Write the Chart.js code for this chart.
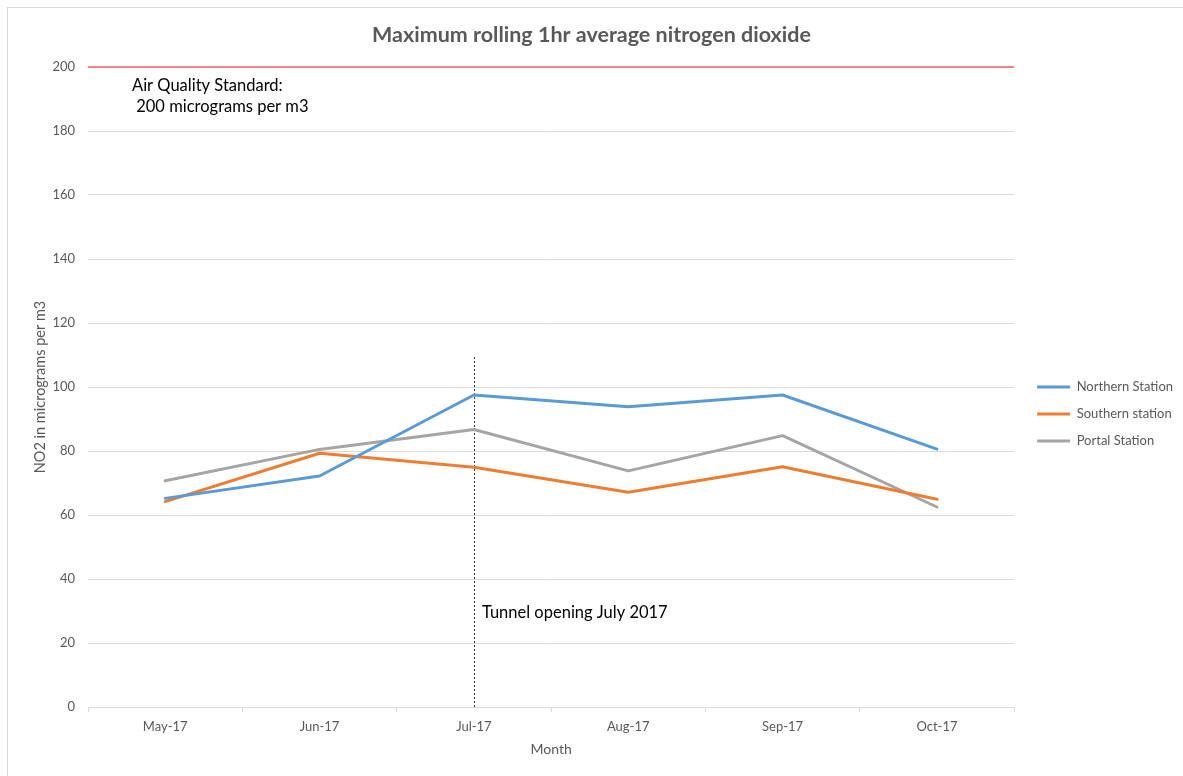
<!DOCTYPE html>
<html>
<head>
<meta charset="utf-8">
<script src="https://cdn.jsdelivr.net/npm/chart.js@4.4.0/dist/chart.umd.min.js"></script>
<style>
html,body{margin:0;padding:0;background:#fff;overflow:hidden;}
#frame{position:absolute;left:7px;top:7px;width:1300px;height:900px;border:1px solid #d9d9d9;}
#wrap{position:absolute;left:0;top:0;width:1183px;height:776px;}
</style>
</head>
<body>
<div id="frame"></div>
<div id="wrap"><canvas id="c" width="1183" height="776"></canvas></div>
<script>
// ---- data ----
const months = ['May-17', 'Jun-17', 'Jul-17', 'Aug-17', 'Sep-17', 'Oct-17'];
const northernStation = [65.2, 72.2, 97.5, 93.8, 97.5, 80.6];
const southernStation = [64.2, 79.3, 74.9, 67.1, 75.1, 64.9];
const portalStation   = [70.7, 80.5, 86.7, 73.8, 84.8, 62.5];
const seriesNames = ['Northern Station', 'Southern station', 'Portal Station'];
const airQualityStandard = 200;
const tunnelOpeningMonth = 'Jul-17';
const tunnelLineTop = 109.5;
const yMin = 0, yMax = 200, yStep = 20;
const titleText = 'Maximum rolling 1hr average nitrogen dioxide';
const xTitle = 'Month';
const yTitle = 'NO2 in micrograms per m3';
const standardLabel1 = 'Air Quality Standard:';
const standardLabel2 = ' 200 micrograms per m3';
const tunnelLabel = 'Tunnel opening July 2017';

const FONT = 'Lato, "Open Sans", sans-serif';
const GREY_TEXT = '#595959';
const GRID = '#d9d9d9';

const overlay = {
  id: 'overlay',
  beforeDatasetsDraw(chart) {
    const {ctx, scales: {x, y}} = chart;
    const xt = Math.round(x.getPixelForValue(months.indexOf(tunnelOpeningMonth))) + 0.5;
    ctx.save();
    ctx.strokeStyle = '#333';
    ctx.lineWidth = 1;
    ctx.setLineDash([2, 2]);
    ctx.beginPath();
    ctx.moveTo(xt, y.getPixelForValue(yMin));
    ctx.lineTo(xt, y.getPixelForValue(tunnelLineTop));
    ctx.stroke();
    ctx.restore();
  },
  afterDatasetsDraw(chart) {
    const {ctx, chartArea: a, scales: {x, y}} = chart;
    ctx.save();
    const yr = y.getPixelForValue(airQualityStandard);
    ctx.strokeStyle = '#F26262';
    ctx.lineWidth = 1.3;
    ctx.beginPath();
    ctx.moveTo(a.left, yr);
    ctx.lineTo(a.right, yr);
    ctx.stroke();

    ctx.fillStyle = '#000';
    ctx.font = '16.5px ' + FONT;
    ctx.textBaseline = 'middle';
    ctx.textAlign = 'left';
    ctx.fillText(standardLabel1, a.left + 44, yr + 19);
    ctx.fillText(standardLabel2, a.left + 44, yr + 40);
    const xt = x.getPixelForValue(months.indexOf(tunnelOpeningMonth));
    ctx.fillText(tunnelLabel, xt + 8, y.getPixelForValue(29.5));
    ctx.restore();
  }
};

const colors = ['#5B9BD5', '#ED7D31', '#A5A5A5'];
const values = [northernStation, southernStation, portalStation];

new Chart(document.getElementById('c'), {
  type: 'line',
  data: {
    labels: months,
    datasets: values.map((v, i) => ({
      label: seriesNames[i],
      data: v,
      borderColor: colors[i],
      backgroundColor: colors[i],
      borderWidth: 3,
      pointRadius: 0,
      tension: 0,
      borderJoinStyle: 'round',
      borderCapStyle: 'round'
    }))
  },
  options: {
    responsive: false,
    animation: false,
    devicePixelRatio: 1,
    layout: {padding: 0},
    plugins: {
      tooltip: {enabled: false},
      title: {
        display: true,
        text: titleText,
        color: GREY_TEXT,
        font: {family: FONT, size: 21.5, weight: 'bold'},
        padding: {top: 22.1, bottom: 19.1}
      },
      legend: {
        position: 'right',
        maxWidth: 160,
        title: {display: true, text: ' ', font: {size: 10}, padding: {top: 40, bottom: 0}},
        labels: {
          boxWidth: 33,
          boxHeight: 3,
          padding: 14,
          color: GREY_TEXT,
          font: {family: FONT, size: 13},
          generateLabels(chart) {
            const items = Chart.defaults.plugins.legend.labels.generateLabels(chart);
            items.forEach(it => { it.lineWidth = 0; });
            return items;
          }
        }
      }
    },
    scales: {
      x: {
        type: 'category',
        offset: true,
        grid: {display: true, drawOnChartArea: false, drawTicks: true, tickLength: 5, color: GRID, offset: true},
        border: {display: true, color: GRID},
        ticks: {color: GREY_TEXT, font: {family: FONT, size: 13}, padding: 7, maxRotation: 0},
        title: {display: true, text: xTitle, color: GREY_TEXT, font: {family: FONT, size: 14}, padding: {top: 0, bottom: 18.6}},
        afterFit(s) { s.height = 69; }
      },
      y: {
        min: yMin,
        max: yMax,
        ticks: {stepSize: yStep, color: GREY_TEXT, font: {family: FONT, size: 13}, padding: 13},
        grid: {color: GRID, drawTicks: false},
        border: {display: false},
        title: {display: true, text: yTitle, color: GREY_TEXT, font: {family: FONT, size: 14.5}, padding: {top: 31.3, bottom: 0}},
        afterFit(s) { s.width = 88; }
      },
      gap: {
        type: 'linear',
        position: 'right',
        display: true,
        grid: {display: false},
        border: {display: false},
        ticks: {display: false},
        afterFit(s) { s.width = 9; }
      }
    }
  },
  plugins: [overlay]
});
</script>
</body>
</html>
